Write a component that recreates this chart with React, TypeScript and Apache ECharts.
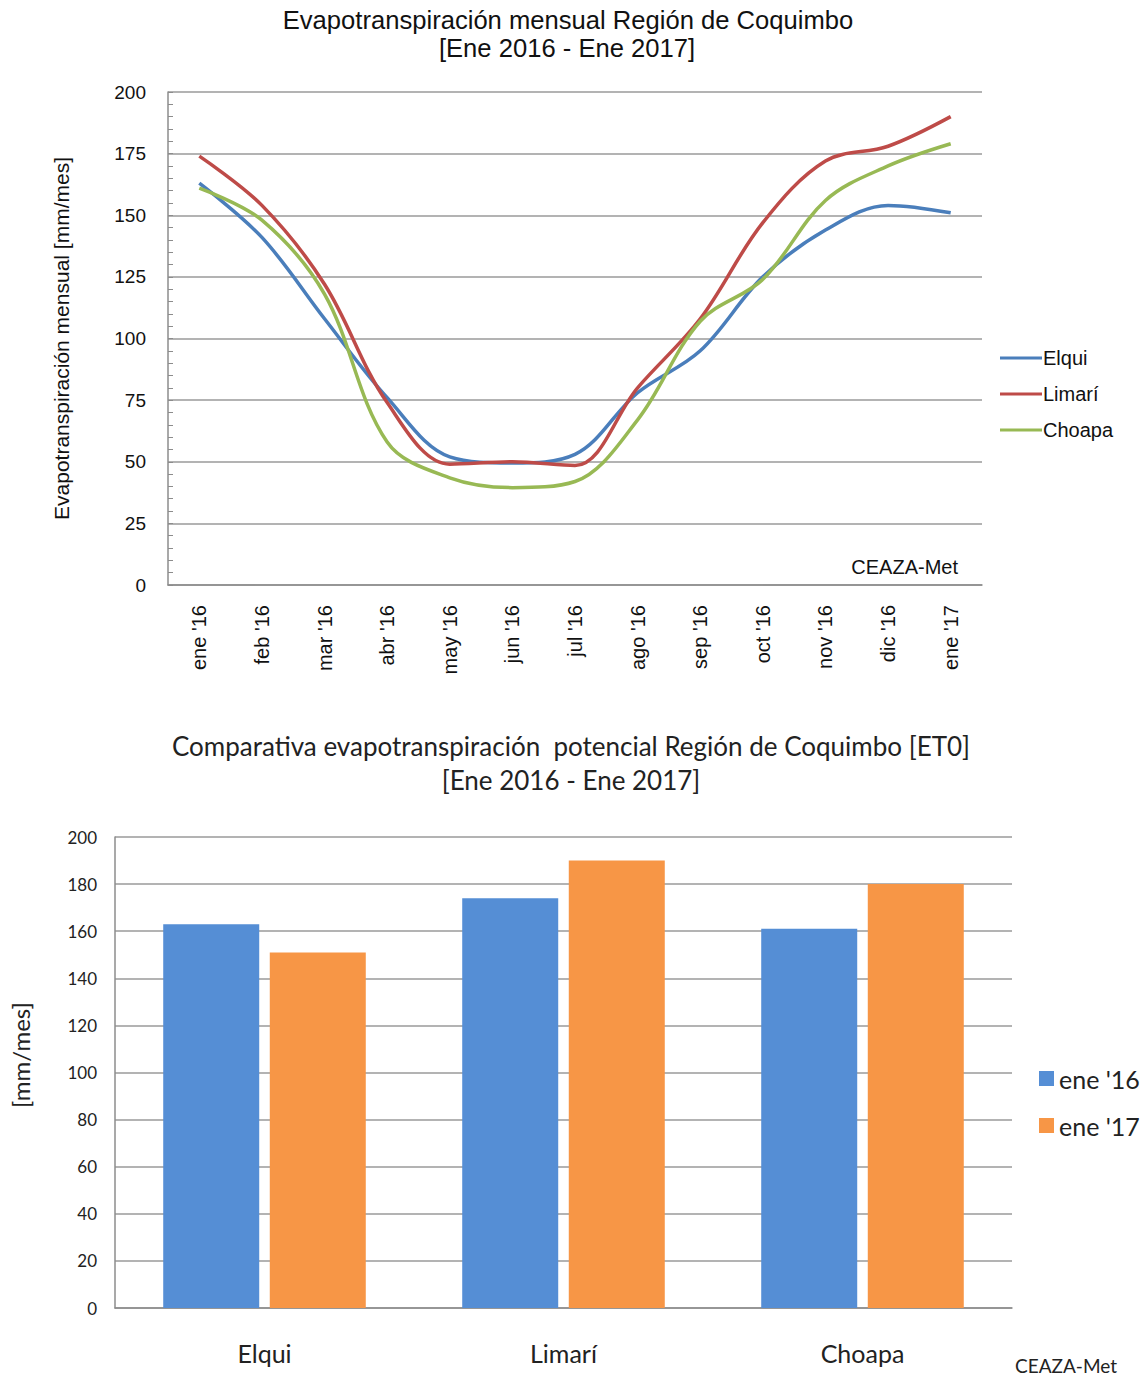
import React, { useEffect, useRef } from "react";
import * as echarts from "echarts";

const months = ["ene '16", "feb '16", "mar '16", "abr '16", "may '16", "jun '16", "jul '16", "ago '16", "sep '16", "oct '16", "nov '16", "dic '16", "ene '17"];
const elqui = [163, 141, 108, 76, 52, 49.5, 53, 78, 95, 125, 144, 154, 151];
const limari = [174, 154, 122, 74, 49, 50, 48.5, 80, 108, 147, 172, 178, 190];
const choapa = [161, 148, 118, 58, 43.5, 39.5, 42, 67, 107, 124, 156, 170, 179];

const regions = ["Elqui", "Limarí", "Choapa"];
const ene16 = [163, 174, 161];
const ene17 = [151, 190, 180];

const ARIAL = "'Liberation Sans', Arial, sans-serif";
const CAL = "Lato, 'Open Sans', sans-serif";

export default function App() {
  const ref = useRef<HTMLDivElement>(null);
  useEffect(() => {
    if (!ref.current) return;
    const chart = echarts.init(ref.current, null, { renderer: "svg" });
    const lineSeries = (name: string, data: number[], color: string) => ({
      name,
      type: "line",
      xAxisIndex: 0,
      yAxisIndex: 0,
      data,
      smooth: 0.35,
      symbol: "none",
      lineStyle: { color, width: 3.5 },
      itemStyle: { color },
    });
    chart.setOption({
      animation: false,
      backgroundColor: "#ffffff",
      grid: [
        { left: 168, top: 92, width: 814, height: 493, containLabel: false },
        { left: 115, top: 837, width: 897, height: 471, containLabel: false },
      ],
      xAxis: [
        {
          type: "category",
          gridIndex: 0,
          data: months,
          boundaryGap: true,
          axisLine: { show: true, lineStyle: { color: "#8c8c8c", width: 1.5 } },
          axisTick: { show: false },
          axisLabel: { rotate: 90, margin: 20, fontSize: 20, fontFamily: ARIAL, color: "#111" },
          splitLine: { show: false },
        },
        {
          type: "category",
          gridIndex: 1,
          data: regions,
          axisLine: { show: true, lineStyle: { color: "#8c8c8c", width: 1.5 } },
          axisTick: { show: false },
          axisLabel: { margin: 32, fontSize: 25, fontFamily: CAL, color: "#222" },
        },
      ],
      yAxis: [
        {
          type: "value",
          gridIndex: 0,
          min: 0,
          max: 200,
          interval: 25,
          name: "Evapotranspiración mensual [mm/mes]",
          nameLocation: "middle",
          nameGap: 96,
          nameTextStyle: { fontSize: 21, fontFamily: ARIAL, color: "#111" },
          axisLine: { show: true, lineStyle: { color: "#8c8c8c", width: 1.5 } },
          axisTick: { show: true, inside: true, length: 5, lineStyle: { color: "#8c8c8c" } },
          minorTick: { show: true, splitNumber: 5, length: 5, lineStyle: { color: "#8c8c8c" } },
          axisLabel: { margin: 22, fontSize: 19, fontFamily: ARIAL, color: "#111" },
          splitLine: { show: true, lineStyle: { color: "#9a9a9a", width: 1.5 } },
        },
        {
          type: "value",
          gridIndex: 1,
          min: 0,
          max: 200,
          interval: 20,
          axisLine: { show: true, lineStyle: { color: "#8c8c8c", width: 1.5 } },
          axisTick: { show: false },
          axisLabel: { margin: 18, fontSize: 17, fontFamily: CAL, color: "#222" },
          splitLine: { show: true, lineStyle: { color: "#9a9a9a", width: 1.5 } },
        },
      ],
      legend: [
        {
          data: ["Elqui", "Limarí", "Choapa"],
          orient: "vertical",
          left: 995,
          top: 343,
          icon: "rect",
          itemWidth: 42,
          itemHeight: 3,
          itemGap: 16,
          textStyle: { fontSize: 20, fontFamily: ARIAL, color: "#111", padding: [0, 0, 0, -4] },
        },
        {
          data: ["ene '16", "ene '17"],
          orient: "vertical",
          left: 1034,
          top: 1061,
          icon: "rect",
          itemWidth: 15,
          itemHeight: 15,
          itemGap: 22,
          textStyle: { fontSize: 25, fontFamily: CAL, color: "#222" },
        },
      ],
      graphic: [
        {
          type: "text",
          x: 568,
          y: 20,
          style: { text: "Evapotranspiración mensual Región de Coquimbo", font: `25.6px ${ARIAL}`, fill: "#111", textAlign: "center", textVerticalAlign: "middle" },
        },
        {
          type: "text",
          x: 567,
          y: 48,
          style: { text: "[Ene 2016 - Ene 2017]", font: `25.6px ${ARIAL}`, fill: "#111", textAlign: "center", textVerticalAlign: "middle" },
        },
        {
          type: "text",
          x: 958,
          y: 567,
          style: { text: "CEAZA-Met", font: `20px ${ARIAL}`, fill: "#111", textAlign: "right", textVerticalAlign: "middle" },
        },
        {
          type: "text",
          x: 571,
          y: 746,
          style: { text: "Comparativa evapotranspiración  potencial Región de Coquimbo [ET0]", font: `26px ${CAL}`, fill: "#222", textAlign: "center", textVerticalAlign: "middle" },
        },
        {
          type: "text",
          x: 571,
          y: 780,
          style: { text: "[Ene 2016 - Ene 2017]", font: `26px ${CAL}`, fill: "#222", textAlign: "center", textVerticalAlign: "middle" },
        },
        {
          type: "text",
          x: 20,
          y: 1055,
          rotation: Math.PI / 2,
          style: { text: "[mm/mes]", font: `24px ${CAL}`, fill: "#222", textAlign: "center", textVerticalAlign: "middle" },
        },
        {
          type: "text",
          x: 1066,
          y: 1365,
          style: { text: "CEAZA-Met", font: `19px ${CAL}`, fill: "#222", textAlign: "center", textVerticalAlign: "middle" },
        },
      ],
      series: [
        lineSeries("Elqui", elqui, "#4a7ebb"),
        lineSeries("Limarí", limari, "#be4b48"),
        lineSeries("Choapa", choapa, "#98b954"),
        {
          name: "ene '16",
          type: "bar",
          xAxisIndex: 1,
          yAxisIndex: 1,
          data: ene16,
          barWidth: 96,
          barGap: "11%",
          itemStyle: { color: "#558ed5" },
        },
        {
          name: "ene '17",
          type: "bar",
          xAxisIndex: 1,
          yAxisIndex: 1,
          data: ene17,
          barWidth: 96,
          barGap: "11%",
          itemStyle: { color: "#f79646" },
        },
      ],
    });
    return () => chart.dispose();
  }, []);
  return <div ref={ref} style={{ position: "absolute", left: 0, top: 0, width: 1148, height: 1378 }} />;
}
